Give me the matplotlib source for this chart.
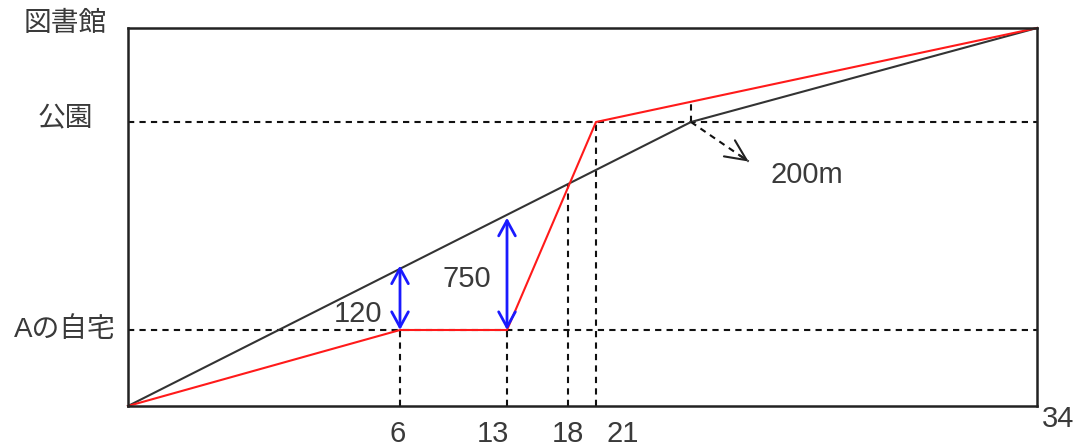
import matplotlib.pyplot as plt
import numpy as np

plt.rcParams['font.family'] = ['Noto Sans CJK JP', 'DejaVu Sans']

# === data (schematic distance-time diagram) ===
places = ['Aの自宅', '公園', '図書館']
place_levels = [1, 2, 3]

tick_times = [6, 13, 18, 21]
end_time = 34

# red route: start -> home -> wait -> park -> library
red_t = [0, 6, 13, 21, 34]
red_y = [0, 1, 1, 2, 3]

# black route: straight walk, passes park around minute 23.8
black_t = [0, 23.8, 34]
black_y = [0, 2, 3]

# gaps shown with blue arrows (height where the black line sits)
gap_t = [6, 13]
gap_top = [1.31, 1.54]
gap_labels = ['120', '750']

cross_t, cross_y = 18, 1.70          # red and black lines cross
park_pass_t = 23.8                   # black reaches park
red_at_pass = 2.21
note_tip = (25.5, 1.81)
note_text = '200m'

# === schematic spacing (the original is not drawn to scale) ===
x_knots = [0, 6, 13, 18, 21, 34]
x_pos = [0, 272, 379, 440, 468, 909]
y_knots = [0, 1, 2, 3]
y_pos = [0, 76, 284, 378]


def fx(v):
    return np.interp(v, x_knots, x_pos)


def ix(v):
    return np.interp(v, x_pos, x_knots)


def fy(v):
    return np.interp(v, y_knots, y_pos)


def iy(v):
    return np.interp(v, y_pos, y_knots)


num_font = ['Liberation Sans', 'Noto Sans CJK JP']
txt_color = '#3a3a3a'

fig = plt.figure(figsize=(10.8, 4.48), dpi=100)
ax = fig.add_axes([128 / 1080, 1 - 406 / 448, 909 / 1080, 378 / 448])
ax.set_xscale('function', functions=(fx, ix))
ax.set_yscale('function', functions=(fy, iy))
ax.set_xlim(0, end_time)
ax.set_ylim(0, 3)
ax.set_xticks([])
ax.set_yticks([])
for s in ax.spines.values():
    s.set_linewidth(1.8)
    s.set_color('#222222')

dash = dict(color='#111111', lw=1.5, linestyle=(0, (3, 2.5)))

# horizontal guides
for lv in place_levels[:2]:
    ax.plot([0, end_time], [lv, lv], **dash)

# vertical guides
ax.plot([6, 6], [0, 1], **dash)
ax.plot([13, 13], [0, 1], **dash)
ax.plot([cross_t, cross_t], [0, cross_y], **dash)
ax.plot([21, 21], [0, 2], **dash)
ax.plot([park_pass_t, park_pass_t], [2, red_at_pass], **dash)

# routes
ax.plot(black_t, black_y, color='#333333', lw=1.5, clip_on=False)
ax.plot(red_t, red_y, color='#ff1a1a', lw=1.5, clip_on=False)

# blue gap arrows
for t, top in zip(gap_t, gap_top):
    ax.annotate('', xy=(t, top), xytext=(t, 1),
                arrowprops=dict(arrowstyle='<->, head_length=0.55, head_width=0.3',
                                color='#1a1aff', lw=2, mutation_scale=20,
                                shrinkA=0, shrinkB=0))
ax.annotate(gap_labels[0], xy=(6, (1 + gap_top[0]) / 2), xytext=(-30, -11.5),
            textcoords='offset points', ha='center', va='center',
            fontsize=21, color=txt_color, family=num_font)
ax.annotate(gap_labels[1], xy=(13, (1 + gap_top[1]) / 2), xytext=(-29, -3.5),
            textcoords='offset points', ha='center', va='center',
            fontsize=21, color=txt_color, family=num_font)

# 200m note: dashed shaft, solid open head
ax.plot([park_pass_t, note_tip[0]], [2, note_tip[1]], **dash)
near_t = park_pass_t + 0.85 * (note_tip[0] - park_pass_t)
near_y = 2 + 0.85 * (note_tip[1] - 2)
ax.annotate('', xy=note_tip, xytext=(near_t, near_y),
            arrowprops=dict(arrowstyle='->, head_length=0.75, head_width=0.35',
                            color='#222222', lw=1.5,
                            mutation_scale=20, shrinkA=0, shrinkB=0))
ax.annotate(note_text, xy=note_tip, xytext=(42, -10), textcoords='offset points',
            ha='center', va='center', fontsize=21, color=txt_color, family=num_font)

# x labels
x_offsets = {6: -2, 13: -10, 18: 0, 21: 19}
for t in tick_times:
    ax.annotate(str(t), xy=(t, 0), xytext=(x_offsets[t], -20),
                textcoords='offset points', ha='center', va='center',
                fontsize=21, color=txt_color, family=num_font,
                annotation_clip=False)
ax.annotate(str(end_time), xy=(end_time, 0), xytext=(15, -9),
            textcoords='offset points', ha='center', va='center',
            fontsize=21, color=txt_color, family=num_font, annotation_clip=False)

# y labels
y_offsets = [0, 3, 3]
for name, lv, dy in zip(places, place_levels, y_offsets):
    ax.annotate(name, xy=(65 / 1080, lv), xycoords=('figure fraction', 'data'),
                xytext=(0, dy), textcoords='offset points',
                ha='center', va='center', fontsize=20, color=txt_color,
                family=['Liberation Sans', 'Noto Sans CJK JP'],
                annotation_clip=False)

fig.savefig('out.png', dpi=100)
